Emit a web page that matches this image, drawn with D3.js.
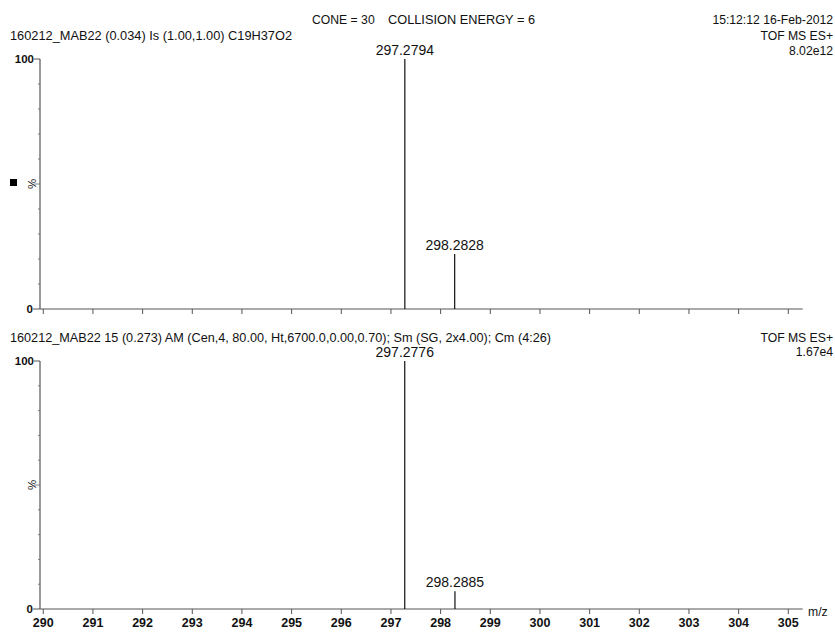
<!DOCTYPE html>
<html><head><meta charset="utf-8">
<script src="https://cdn.jsdelivr.net/npm/d3@7"></script>
<style>body{margin:0;background:#fff}svg{display:block}text{font-family:"Liberation Sans",Arial,sans-serif;fill:#111}</style>
</head><body><svg id="c" width="835" height="632"></svg>
<script>
const xTicks = [290,291,292,293,294,295,296,297,298,299,300,301,302,303,304,305];
const topMz = [297.2794, 298.2828];
const topInt = [100, 22];
const topLabels = ["297.2794", "298.2828"];
const botMz = [297.2776, 298.2885];
const botInt = [100, 7.2];
const botLabels = ["297.2776", "298.2885"];
const headerCone = "CONE = 30";
const headerEnergy = "COLLISION ENERGY = 6";
const headerDate = "15:12:12 16-Feb-2012";
const topTitle = "160212_MAB22  (0.034) Is (1.00,1.00) C19H37O2";
const botTitle = "160212_MAB22 15 (0.273) AM (Cen,4, 80.00, Ht,6700.0,0.00,0.70); Sm (SG, 2x4.00); Cm (4:26)";
const modeLabel = "TOF MS ES+";
const topScale = "8.02e12";
const botScale = "1.67e4";

const svg = d3.select("#c");
const x = d3.scaleLinear().domain([289.934, 305.29]).range([40, 802.7]);

function panel(y0, y100, mz, inten, labels, xLabels) {
  const y = d3.scaleLinear().domain([0, 100]).range([y0, y100]);
  const g = svg.append("g");
  g.append("line").attr("x1", 40).attr("x2", 40).attr("y1", y(100)).attr("y2", y(0))
    .attr("stroke", "#555").attr("stroke-width", 1.2);
  g.append("line").attr("x1", 34).attr("x2", 40).attr("y1", y(100)).attr("y2", y(100)).attr("stroke", "#555");
  g.append("line").attr("x1", 33).attr("x2", 40).attr("y1", y(0)).attr("y2", y(0)).attr("stroke", "#555");
  d3.range(10, 100, 10).forEach(v => {
    g.append("line").attr("x1", v === 50 ? 34 : 38).attr("x2", 40).attr("y1", y(v)).attr("y2", y(v))
      .attr("stroke", "#666").attr("stroke-width", 0.8);
  });
  g.append("text").attr("x", 34).attr("y", y(100) + 4).attr("text-anchor", "end")
    .attr("font-size", 11.5).attr("font-weight", "bold").text("100");
  g.append("text").attr("x", 33).attr("y", y(0) + 4).attr("text-anchor", "end")
    .attr("font-size", 11.5).attr("font-weight", "bold").text("0");
  g.append("text").attr("transform", `translate(36,${y(50)}) rotate(-90)`).attr("text-anchor", "middle")
    .attr("font-size", 11.5).text("%");
  g.append("line").attr("x1", 40).attr("x2", 802.7).attr("y1", y(0)).attr("y2", y(0))
    .attr("stroke", "#555").attr("stroke-width", 1.2);
  xTicks.forEach(t => {
    g.append("line").attr("x1", x(t)).attr("x2", x(t)).attr("y1", y(0)).attr("y2", y(0) + 5).attr("stroke", "#555");
    if (xLabels) g.append("text").attr("x", x(t)).attr("y", y(0) + 18).attr("text-anchor", "middle")
      .attr("font-size", 12.5).attr("font-weight", "bold").attr("fill", "#333").text(t);
  });
  mz.forEach((m, i) => {
    g.append("line").attr("x1", x(m)).attr("x2", x(m)).attr("y1", y(0)).attr("y2", y(inten[i]))
      .attr("stroke", "#111").attr("stroke-width", 1.2);
    g.append("text").attr("x", x(m)).attr("y", y(inten[i]) - 4).attr("text-anchor", "middle")
      .attr("font-size", 14).text(labels[i]);
  });
}

panel(309, 59, topMz, topInt, topLabels, false);
panel(609, 361, botMz, botInt, botLabels, true);

const t = (x0, y0, s, anchor, len) => {
  const e = svg.append("text").attr("x", x0).attr("y", y0)
    .attr("text-anchor", anchor || "start").attr("font-size", 12.2).text(s);
  if (len) e.attr("textLength", len).attr("lengthAdjust", "spacingAndGlyphs");
  return e;
};
t(312, 24, headerCone, "start");
t(388, 24, headerEnergy, "start", 147);
t(833, 24, headerDate, "end");
t(10, 40, topTitle, "start", 282);
t(833, 40, modeLabel, "end");
t(833, 55, topScale, "end");
t(10, 342, botTitle, "start", 541);
t(833, 342, modeLabel, "end");
t(833, 356, botScale, "end");
t(808, 616, "m/z", "start");
svg.append("rect").attr("x", 10).attr("y", 179).attr("width", 7).attr("height", 7).attr("fill", "#000");
</script></body></html>
